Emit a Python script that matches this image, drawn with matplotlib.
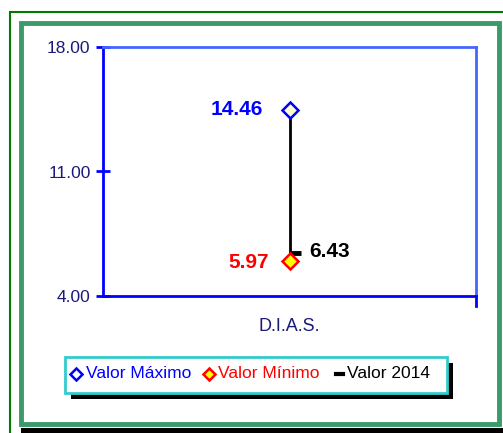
import matplotlib.pyplot as plt
from matplotlib.patches import Rectangle

plt.rcParams['font.family'] = ['Liberation Sans', 'DejaVu Sans']

categories = ["D.I.A.S."]
valor_max = [14.46]
valor_min = [5.97]
valor_2014 = [6.43]
yticks = [4.0, 11.0, 18.0]

W, H = 503, 433
fig = plt.figure(figsize=(W / 100, H / 100), dpi=100)

def px(x, y, w, h):
    # pixel box (top-left origin) -> figure fraction
    return (x / W, 1 - (y + h) / H, w / W, h / H)

# outer frames
fig.patches.append(Rectangle(px(10, 12, 520, 440)[:2], 520 / W, 440 / H,
                             transform=fig.transFigure, fill=False,
                             edgecolor="#007a00", lw=1.5))
fig.patches.append(Rectangle(px(21, 428, 482, 6)[:2], 482 / W, 6 / H,
                             transform=fig.transFigure, facecolor="black",
                             edgecolor="none"))
fig.patches.append(Rectangle(px(21, 23, 478, 401)[:2], 478 / W, 401 / H,
                             transform=fig.transFigure, fill=False,
                             edgecolor="#3a9a6a", lw=3.5))

ax = fig.add_axes(px(103, 47, 373, 249))
x = list(range(len(categories)))

ax.vlines(x, valor_min, valor_max, color="black", lw=2, zorder=2)
ax.plot(x, valor_2014, ls="none", marker=1, color="black", ms=8, mew=3.5, zorder=3)
ax.plot(x, valor_max, ls="none", marker="D", ms=8, mfc="#ffffcc",
        mec="#0000ff", mew=1.8, zorder=4)
ax.plot(x, valor_min, ls="none", marker="D", ms=8, mfc="#ffff00",
        mec="#ff0000", mew=1.8, zorder=4)

for xi, v in zip(x, valor_max):
    ax.annotate(f"{v:.2f}", (xi, v), xytext=(-19, 0), textcoords="offset points",
                ha="right", va="center", color="#0000ff", fontsize=15,
                fontweight="bold")
for xi, v in zip(x, valor_min):
    ax.annotate(f"{v:.2f}", (xi, v), xytext=(-15, -1), textcoords="offset points",
                ha="right", va="center", color="#ff0000", fontsize=15,
                fontweight="bold")
for xi, v in zip(x, valor_2014):
    ax.annotate(f"{v:.2f}", (xi, v), xytext=(14, 1), textcoords="offset points",
                ha="left", va="center", color="black", fontsize=15,
                fontweight="bold")

ax.set_xlim(-0.5, 0.5)
ax.set_ylim(4, 18)
ax.set_yticks(yticks)
ax.set_yticklabels([f"{t:.2f}" for t in yticks], color="#1a1a7a", fontsize=12.5)
ax.set_xticks(x)
ax.set_xticklabels(categories, color="#1a1a7a", fontsize=13)
ax.tick_params(axis="y", direction="inout", length=10, width=2, color="#0000ff", pad=4)
ax.tick_params(axis="x", length=0, pad=16)
ax.minorticks_off()
for side in ["left", "bottom"]:
    ax.spines[side].set_color("#0000ff")
    ax.spines[side].set_linewidth(2)
for side in ["top", "right"]:
    ax.spines[side].set_color("#4466ff")
    ax.spines[side].set_linewidth(2)
ax.plot([1, 1], [-0.04, 0], transform=ax.transAxes, color="#0000ff", lw=2, clip_on=False)

# legend with drop shadow
fig.patches.append(Rectangle(px(71, 363, 382, 36)[:2], 382 / W, 36 / H,
                             transform=fig.transFigure, facecolor="black",
                             edgecolor="none"))
fig.patches.append(Rectangle(px(65, 357, 382, 36)[:2], 382 / W, 36 / H,
                             transform=fig.transFigure, facecolor="white",
                             edgecolor="#33cccc", lw=2))
ly = 1 - 374 / H
fig.lines.append(plt.Line2D([76 / W], [ly], transform=fig.transFigure, marker="D",
                            ms=6, mfc="white", mec="#0000ff", mew=1.8, ls="none"))
fig.text(86 / W, ly, "Valor Máximo", color="#0000ff", fontsize=12.5, va="center")
fig.lines.append(plt.Line2D([209 / W], [ly], transform=fig.transFigure, marker="D",
                            ms=6, mfc="#ffff00", mec="#ff0000", mew=1.8, ls="none"))
fig.text(218 / W, ly, "Valor Mínimo", color="#ff0000", fontsize=12.5, va="center")
fig.lines.append(plt.Line2D([336 / W, 343 / W], [ly, ly], transform=fig.transFigure,
                            color="black", lw=3))
fig.text(347 / W, ly, "Valor 2014", color="black", fontsize=12.5, va="center")

plt.savefig("out.png", dpi=100)
